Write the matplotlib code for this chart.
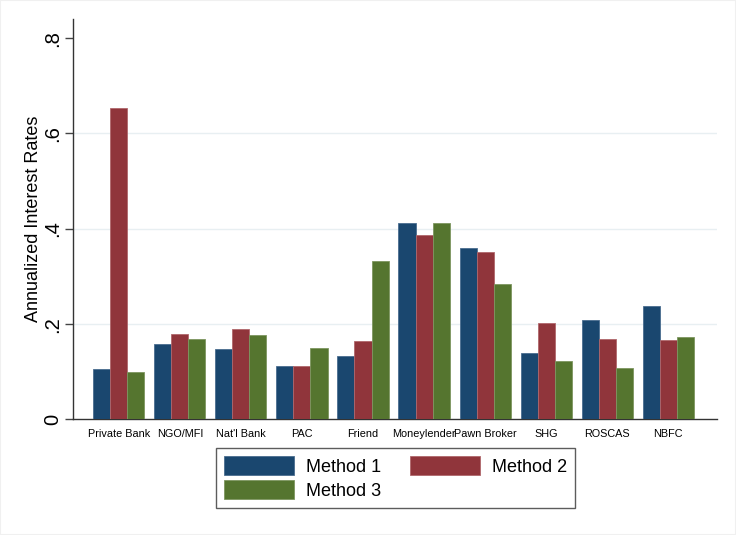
import numpy as np
import matplotlib.pyplot as plt
from matplotlib.patches import Patch

plt.rcParams['font.family'] = ['Liberation Sans', 'DejaVu Sans']

# Datos
categories = ["Private Bank", "NGO/MFI", "Nat'l Bank", "PAC", "Friend",
              "Moneylender", "Pawn Broker", "SHG", "ROSCAS", "NBFC"]
method1 = [0.105, 0.159, 0.147, 0.112, 0.134, 0.412, 0.359, 0.139, 0.208, 0.237]
method2 = [0.654, 0.180, 0.189, 0.112, 0.164, 0.387, 0.351, 0.202, 0.168, 0.166]
method3 = [0.099, 0.168, 0.178, 0.149, 0.333, 0.412, 0.284, 0.122, 0.107, 0.173]
series_names = ["Method 1", "Method 2", "Method 3"]
yticks = [0, 0.2, 0.4, 0.6, 0.8]
ytick_labels = ["0", ".2", ".4", ".6", ".8"]

colors = ["#1a476f", "#90353b", "#55752f"]
edges = ["#4a6d8f", "#b0676c", "#7d9660"]

fig = plt.figure(figsize=(7.36, 5.35), dpi=100)
ax = fig.add_axes([0.0988, 0.2159, 0.8754, 0.7486])

x = np.arange(len(categories))
w = 0.279
for k, vals in enumerate([method1, method2, method3]):
    ax.bar(x + (k - 1) * w, vals, width=w, color=colors[k],
           edgecolor=edges[k], linewidth=0.6, zorder=3)

# Grilla horizontal (solo lineas interiores)
for yv in yticks[1:-1]:
    ax.axhline(yv, color="#e8eff2", linewidth=1.0, zorder=1)

ax.set_xlim(-0.756, 9.8)
ax.set_ylim(0, 0.84)
ax.set_yticks(yticks)
ax.set_yticklabels(ytick_labels, rotation=90, va="center", fontsize=14.5)
ax.set_xticks(x)
ax.set_xticklabels(categories, fontsize=7.8)
ax.tick_params(axis="x", length=0, pad=7)
ax.tick_params(axis="y", length=6, width=1, color="#444444", pad=1.5)
ax.set_ylabel("Annualized Interest Rates", fontsize=13, labelpad=1)

for s in ["top", "right"]:
    ax.spines[s].set_visible(False)
for s in ["left", "bottom"]:
    ax.spines[s].set_color("#333333")
    ax.spines[s].set_linewidth(1.0)

# Orden por filas: Method 1, Method 2 / Method 3
order = [0, 2, 1]
handles = [Patch(facecolor=colors[k], edgecolor=edges[k], linewidth=0.6)
           for k in order]
labels = [series_names[k] for k in order]
leg = fig.legend(handles, labels, loc="center",
                 bbox_to_anchor=(395.5 / 736, (535 - 478) / 535),
                 ncol=2, fontsize=13, frameon=True, fancybox=False,
                 handlelength=3.9, handleheight=1.25, handletextpad=0.65,
                 columnspacing=1.6, labelspacing=0.25, borderpad=0.45)
leg.get_frame().set_edgecolor("#333333")
leg.get_frame().set_linewidth(1.0)

# Borde externo muy tenue
fig.patches.append(plt.Rectangle((0, 0), 1, 1, transform=fig.transFigure,
                                 fill=False, edgecolor="#f0f0f0", linewidth=1.5))

plt.savefig("out.png", dpi=100)
